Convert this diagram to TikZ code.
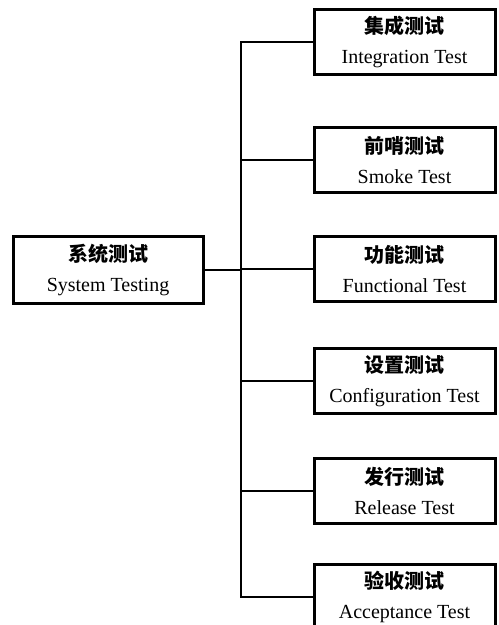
\documentclass[tikz,border=0pt]{standalone}
\usepackage{fontspec}
\setmainfont{Liberation Serif}
\newfontfamily\cjk{Noto Sans CJK SC}

\begin{document}
\begin{tikzpicture}[x=0.5pt, y=-0.5pt,
    testbox/.style={draw, line width=1.5pt, align=center, inner sep=0pt,
      minimum width=90.5pt, minimum height=32.5pt,
      font=\fontsize{10}{15}\selectfont},
    link/.style={line width=0.75pt}]
  \useasboundingbox (0,0) rectangle (498,625);

  \node[testbox, minimum width=95pt, minimum height=33.5pt] (sys) at (108,270)
    {{\cjk\bfseries 系统测试}\\System Testing};

  \node[testbox] (integ)  at (404.5,42)  {{\cjk\bfseries 集成测试}\\Integration Test};
  \node[testbox] (smoke)  at (404.5,160) {{\cjk\bfseries 前哨测试}\\Smoke Test};
  \node[testbox] (func)   at (404.5,269) {{\cjk\bfseries 功能测试}\\Functional Test};
  \node[testbox] (config) at (404.5,381) {{\cjk\bfseries 设置测试}\\Configuration Test};
  \node[testbox] (rel)    at (404.5,491) {{\cjk\bfseries 发行测试}\\Release Test};
  \node[testbox] (accept) at (404.5,597) {{\cjk\bfseries 验收测试}\\Acceptance Test};

  \coordinate (bus) at (241,0);

  \draw[link] (integ.west) -- (integ.west -| bus) -- (accept.west -| bus) -- (accept.west);
  \draw[link] (sys.east) -- (sys.east -| bus);
  \draw[link] (smoke.west) -- (smoke.west -| bus);
  \draw[link] (func.west) -- (func.west -| bus);
  \draw[link] (config.west) -- (config.west -| bus);
  \draw[link] (rel.west) -- (rel.west -| bus);

\end{tikzpicture}
\end{document}
